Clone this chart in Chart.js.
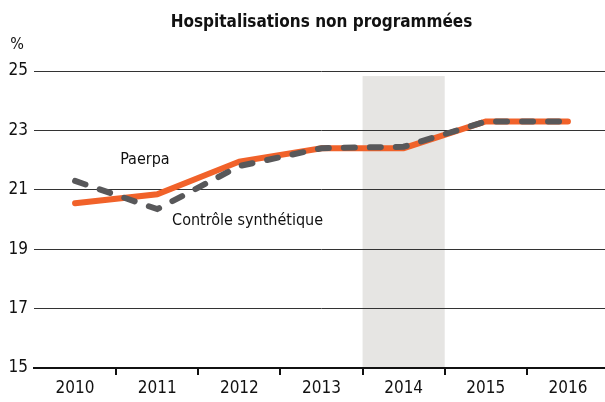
<!DOCTYPE html>
<html><head><meta charset="utf-8">
<script src="https://cdn.jsdelivr.net/npm/chart.js@4/dist/chart.umd.min.js"></script>
<style>html,body{margin:0;padding:0;overflow:hidden;background:#fff}#w{width:612px;height:402px}</style>
</head><body><div id="w"><canvas id="c" width="612" height="402"></canvas></div>
<script>
const years = ['2010','2011','2012','2013','2014','2015','2016'];
const paerpa = [20.55, 20.85, 21.95, 22.4, 22.4, 23.3, 23.3];
const controle = [21.3, 20.35, 21.8, 22.4, 22.45, 23.3, 23.3];
const yTicks = [15, 17, 19, 21, 23, 25];
const title = 'Hospitalisations non programmées';
const unit = '%';
const seriesNames = ['Paerpa', 'Contrôle synthétique'];
const shadedYear = '2014';

const FONT = '"DejaVu Sans Condensed", "Liberation Sans", sans-serif';

const decor = {
  id: 'decor',
  beforeDraw(chart) {
    const {ctx, scales: {x, y}} = chart;
    const i = years.indexOf(shadedYear);
    const cw = x.getPixelForValue(1) - x.getPixelForValue(0);
    const cx = x.getPixelForValue(i);
    ctx.save();
    ctx.fillStyle = '#e6e5e3';
    const top = y.getPixelForValue(24.83);
    ctx.fillRect(cx - cw/2, top, cw, y.getPixelForValue(15) - top);
    ctx.restore();
  },
  afterDraw(chart) {
    const {ctx, chartArea, scales: {x, y}} = chart;
    ctx.save();
    ctx.fillStyle = '#111';
    ctx.textAlign = 'center';
    ctx.textBaseline = 'middle';
    ctx.font = 'bold 17px ' + FONT;
    ctx.fillText(title, (chartArea.left + chartArea.right)/2, 23);
    ctx.font = '16px ' + FONT;
    ctx.fillText(unit, 17, 45);
    ctx.fillText(seriesNames[0], x.getPixelForValue(0.85), y.getPixelForValue(22.0));
    ctx.fillText(seriesNames[1], x.getPixelForValue(2.1), y.getPixelForValue(19.95));
    ctx.restore();
  }
};

new Chart(document.getElementById('c'), {
  type: 'line',
  data: {
    labels: years,
    datasets: [
      {label: seriesNames[0], data: paerpa, borderColor: '#f1622a', borderWidth: 6,
       pointRadius: 0, tension: 0, order: 1, borderCapStyle: 'round', borderJoinStyle: 'miter'},
      {label: seriesNames[1], data: controle, borderColor: '#58585a', borderWidth: 6,
       borderDash: [11, 15], borderCapStyle: 'round', pointRadius: 0, tension: 0, order: 0}
    ]
  },
  options: {
    responsive: false,
    animation: false,
    layout: {padding: {top: 71, right: 3, left: 0, bottom: 0}},
    plugins: {legend: {display: false}, tooltip: {enabled: false}, title: {display: false}},
    scales: {
      x: {
        offset: true,
        afterFit(s) { s.height = 34; },
        grid: {offset: true, drawOnChartArea: false, tickLength: 7, lineWidth: 2,
          color: (c) => (c.index === 0 ? 'rgba(0,0,0,0)' : '#111'),
          tickColor: (c) => (c.index === 0 || c.index === years.length ? 'rgba(0,0,0,0)' : '#111')},
        border: {display: true, color: '#111', width: 2},
        ticks: {color: '#111', font: {family: FONT, size: 17}, padding: 3, maxRotation: 0}
      },
      y: {
        min: 15, max: 25,
        afterFit(s) { s.width = 34; },
        afterBuildTicks(s) { s.ticks = yTicks.map(v => ({value: v})); },
        grid: {drawTicks: false, color: '#333', lineWidth: 1},
        border: {display: false},
        ticks: {color: '#111', font: {family: FONT, size: 17}, padding: 6}
      }
    }
  },
  plugins: [decor]
});
</script>
</body></html>
